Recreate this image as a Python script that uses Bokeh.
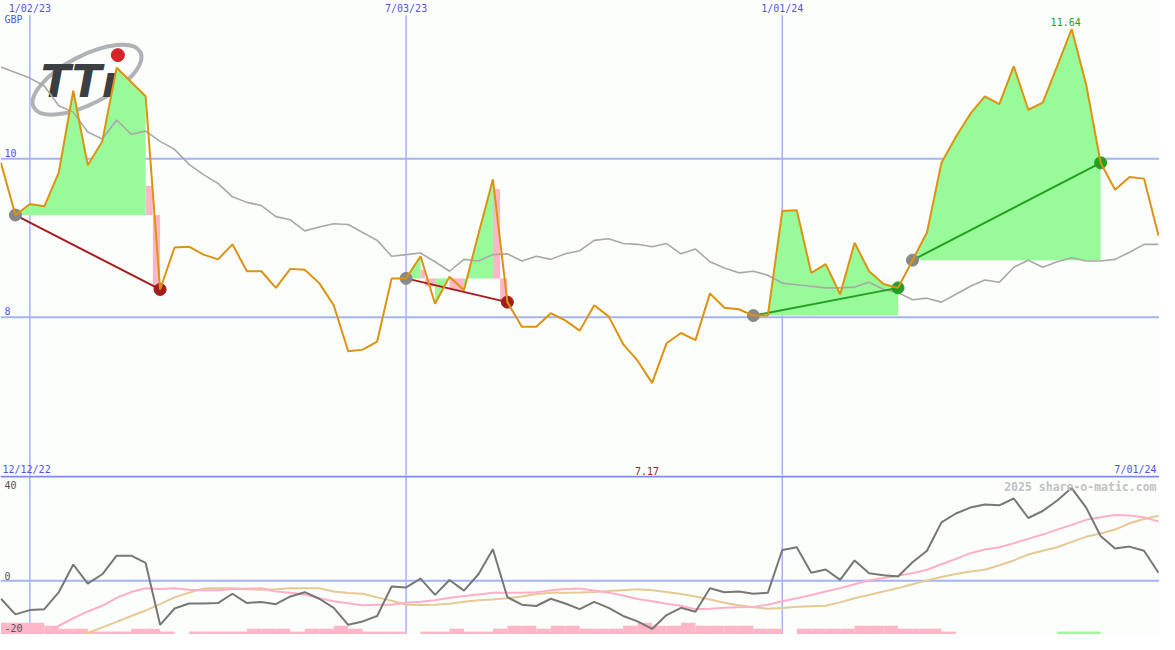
from bokeh.plotting import figure
from bokeh.layouts import column
from bokeh.models import Range1d, Span, Label
from bokeh.embed import file_html
from bokeh.resources import INLINE
from bokeh.core.properties import value

# ---------------- data (weekly, index 0 = w/c 19 Dec 2022) ----------------
price = [9.95, 9.29, 9.43, 9.40, 9.83, 10.86, 9.92, 10.22, 11.15, 10.97,
         10.79, 8.35, 8.88, 8.89, 8.79, 8.73, 8.92, 8.58, 8.58, 8.37,
         8.61, 8.60, 8.43, 8.15, 7.57, 7.59, 7.69, 8.49, 8.49, 8.77,
         8.17, 8.51, 8.34, 9.05, 9.74, 8.19, 7.88, 7.88, 8.05, 7.96,
         7.83, 8.15, 8.01, 7.66, 7.45, 7.17, 7.67, 7.80, 7.71, 8.30,
         8.12, 8.10, 8.02, 8.02, 9.34, 9.35, 8.56, 8.67, 8.29, 8.94,
         8.58, 8.42, 8.37, 8.72, 9.07, 9.95, 10.28, 10.57, 10.79, 10.69,
         11.17, 10.62, 10.71, 11.17, 11.64, 10.94, 9.95, 9.61, 9.77, 9.75,
         9.03]
avg = [11.16, 11.09, 11.02, 10.92, 10.67, 10.59, 10.34, 10.25, 10.49, 10.31,
       10.35, 10.22, 10.12, 9.93, 9.80, 9.69, 9.52, 9.45, 9.41, 9.27,
       9.23, 9.09, 9.14, 9.18, 9.17, 9.07, 8.97, 8.77, 8.79, 8.81,
       8.70, 8.58, 8.73, 8.71, 8.79, 8.80, 8.71, 8.77, 8.73, 8.80,
       8.84, 8.97, 8.99, 8.93, 8.92, 8.89, 8.93, 8.80, 8.86, 8.70,
       8.62, 8.56, 8.58, 8.53, 8.43, 8.41, 8.39, 8.37, 8.37, 8.38,
       8.44, 8.35, 8.31, 8.22, 8.24, 8.19, 8.29, 8.39, 8.47, 8.44,
       8.63, 8.72, 8.63, 8.70, 8.75, 8.71, 8.71, 8.73, 8.82, 8.92,
       8.92]
mom = [-7.9, -14.8, -12.9, -12.5, -5.0, 7.2, -1.2, 2.9, 11.1, 11.1,
       7.9, -19.4, -12.2, -10.0, -10.0, -9.8, -5.7, -9.8, -9.3, -10.3,
       -6.9, -5.0, -7.9, -11.9, -19.4, -17.9, -15.5, -2.5, -2.9, 1.0,
       -6.2, 0.4, -4.3, 2.9, 13.9, -7.2, -10.5, -11.1, -7.9, -10.0,
       -12.5, -9.3, -11.9, -15.5, -17.9, -21.2, -15.1, -11.9, -13.6, -3.3,
       -5.0, -4.7, -5.7, -5.3, 13.6, 14.8, 3.6, 5.0, 0.4, 9.0,
       3.3, 2.5, 1.9, 8.2, 13.3, 25.8, 29.7, 32.3, 33.7, 33.3,
       36.3, 27.7, 30.8, 35.4, 40.9, 32.3, 19.8, 14.3, 15.1, 13.3,
       3.6]
mom_fast = [-33.0, -30.5, -27.5, -24.5, -19.8, -16.5, -13.5, -11.0, -7.5, -4.9,
            -3.3, -3.6, -3.3, -3.9, -4.2, -4.1, -3.6, -3.4, -3.3, -4.7,
            -5.2, -6.0, -7.7, -9.0, -9.9, -10.8, -10.5, -10.5, -9.7, -9.2,
            -8.6, -7.5, -6.7, -6.0, -5.3, -5.2, -5.2, -5.0, -4.2, -3.6,
            -3.4, -4.3, -5.2, -6.5, -8.0, -9.0, -10.1, -11.0, -12.5, -12.3,
            -11.9, -11.6, -11.5, -10.5, -9.0, -7.7, -6.2, -4.7, -3.2, -1.5,
            0.2, 1.3, 2.2, 3.4, 4.9, 7.3, 9.7, 12.2, 13.8, 14.8,
            16.6, 18.5, 20.4, 22.6, 24.7, 26.9, 28.0, 29.0, 28.8, 28.0,
            26.2]
mom_slow = [-35.5, -33.5, -31.5, -29.5, -27.5, -25.5, -23.0, -20.5, -18.1, -15.5,
            -13.1, -10.3, -7.3, -5.2, -3.4, -3.3, -3.3, -3.7, -3.9, -3.7,
            -3.3, -3.3, -3.3, -4.7, -5.4, -5.7, -7.3, -8.8, -10.5, -10.6,
            -10.5, -10.1, -9.2, -8.6, -8.2, -7.7, -6.9, -5.8, -5.2, -5.2,
            -5.1, -4.9, -4.5, -4.1, -3.7, -4.1, -4.9, -5.8, -6.9, -8.2,
            -9.7, -10.8, -11.6, -12.3, -12.0, -11.4, -11.2, -11.0, -9.5, -7.7,
            -6.2, -4.7, -3.2, -1.5, 0.2, 1.7, 3.0, 4.1, 4.9, 6.9,
            9.0, 11.6, 13.3, 14.8, 17.2, 19.4, 20.9, 22.6, 25.4, 27.3,
            28.7]
hist_down = [4, 4, 4, 3, 2, 2, 1, 1, 1, 2,
             2, 1, 0, 1, 1, 1, 1, 2, 2, 2,
             1, 2, 2, 3, 2, 1, 1, 1, 0, 1,
             1, 2, 1, 1, 2, 3, 3, 2, 3, 3,
             2, 2, 2, 3, 4, 3, 3, 4, 3, 3,
             3, 3, 2, 2, 0, 2, 2, 2, 2, 3,
             3, 3, 2, 2, 2, 1, 0, 0, 0, 0,
             0, 0, 0, 0, 0, 0, 0, 0, 0, 0]
hist_up = [0] * 73 + [1, 1, 1] + [0] * 4

date_idx = [2, 28, 54]
date_labels = ["1/02/23", "7/03/23", "1/01/24"]
range_labels = ["12/12/22", "7/01/24"]
price_grid = [10, 8]
price_grid_labels = ["10", "8"]
mom_grid_labels = [40, 0, -20]

# trend segments (start week, end week)
seg_start = [1, 28, 52, 63]
seg_end = [11, 35, 62, 76]
# green shaded stretches (from, to, segment)
green_from = [1, 28, 30, 32, 52, 63]
green_to = [10, 29, 31, 34, 62, 76]
green_seg = [0, 1, 1, 1, 2, 3]
# pink shaded blocks (weeks / GBP)
pink_x0 = [10, 10.5, 29, 29.3, 31, 34, 34.5]
pink_x1 = [10.5, 11, 29.3, 30, 32, 34.5, 35]
pink_lo = [9.29, 8.35, 8.49, 8.39, 8.34, 8.49, 8.19]
pink_hi = [9.66, 9.29, 8.60, 8.49, 8.49, 9.62, 8.49]

# ---------------- style ----------------
W, H1, H2 = 1159, 475, 159
BG = "#fcfefc"
GRID = "#a6b3f3"
BORDER = "#7d8cf0"
BLUE = "#5252ee"
ORANGE = "#dd9210"
GREYMA = "#a8a8a8"
GFILL = "#98fa98"
PINK = "#ffb6c6"
DRED = "#a31d1d"
GREEN = "#23a023"
MONO = "DejaVu Sans Mono"

YTOP, YBOT = 12.0, 6.0
MTOP, MBOT = 46.45, -23.66
xr = Range1d(-0.03, 80.07)


def make_fig(h, yr):
    p = figure(width=W, height=h, x_range=xr, y_range=yr, output_backend="svg",
               toolbar_location=None, min_border=0, x_axis_location=None,
               y_axis_location=None, background_fill_color=BG,
               border_fill_color=BG, outline_line_color=None)
    p.grid.visible = False
    return p


# ---------------- top panel ----------------
p1 = make_fig(H1, Range1d(YBOT, YTOP))
for lv in price_grid:
    p1.add_layout(Span(location=lv, dimension="width", line_color=GRID,
                       line_width=2, level="underlay"))
vtop = YTOP - 15 / 81.17
p1.segment(x0=date_idx, y0=[YBOT] * 3, x1=date_idx, y1=[vtop] * 3,
           line_color=GRID, line_width=1.5)

# logo (decoration)
p1.ellipse(x=[5.95], y=[11.0], width=[120], height=[48], angle=[0.48],
           width_units="screen", height_units="screen", fill_alpha=0,
           line_color="#b0b3b6", line_width=4)
p1.text(x=[2.75], y=[10.98], text=["TTı"], text_font=value("DejaVu Sans"),
        text_font_style="bold italic", text_font_size="44px",
        text_color="#3c3f42", text_baseline="alphabetic")
p1.scatter(x=[8.08], y=[11.31], size=13, color="#d8232a")

# shaded areas
gx, gy = [], []
for a, b, s in zip(green_from, green_to, green_seg):
    base = price[seg_start[s]]
    xs = [a] + list(range(a, b + 1)) + [b]
    ys = [base] + price[a:b + 1] + [base]
    gx.append(xs)
    gy.append(ys)
p1.patches(xs=gx, ys=gy, fill_color=GFILL, line_alpha=0)
p1.quad(left=pink_x0, right=pink_x1, bottom=pink_lo, top=pink_hi,
        fill_color=PINK, line_alpha=0)

weeks = list(range(len(price)))
p1.line(weeks, avg, line_color=GREYMA, line_width=1.6)

for s, e in zip(seg_start, seg_end):
    up = price[e] > price[s]
    col = GREEN if up else DRED
    p1.line([s, e], [price[s], price[e]], line_color=col, line_width=2)
    p1.scatter([s], [price[s]], size=12, color="#888888")
    p1.scatter([e], [price[e]], size=12, color=col)

p1.line(weeks, price, line_color=ORANGE, line_width=2)

for d, t in zip(date_idx, date_labels):
    p1.add_layout(Label(x=d, y=H1 - 2, y_units="screen", text=t,
                        text_font=MONO, text_font_size="10px",
                        text_color=BLUE, text_align="center",
                        text_baseline="top"))
p1.add_layout(Label(x=4, y=H1 - 13, x_units="screen", y_units="screen",
                    text="GBP", text_font=MONO, text_font_size="10px",
                    text_color=BLUE, text_baseline="top"))
for lv, t in zip(price_grid, price_grid_labels):
    p1.add_layout(Label(x=4, y=lv, x_units="screen", y_offset=2, text=t,
                        text_font=MONO, text_font_size="10px",
                        text_color=BLUE, text_baseline="bottom"))
imax = price.index(max(price))
imin = price.index(min(price))
p1.add_layout(Label(x=imax, y=price[imax], x_offset=-6, y_offset=3,
                    text=f"{price[imax]:.2f}", text_font=MONO,
                    text_font_size="10px", text_color=GREEN,
                    text_align="center", text_baseline="bottom"))
p1.add_layout(Label(x=imin, y=1, y_units="screen", x_offset=-5,
                    text=f"{price[imin]:.2f}", text_font=MONO,
                    text_font_size="10px", text_color="#aa2020",
                    text_align="center", text_baseline="bottom"))
p1.add_layout(Label(x=2, y=1, x_units="screen", y_units="screen",
                    text=range_labels[0], text_font=MONO,
                    text_font_size="10px", text_color=BLUE,
                    text_baseline="bottom"))
p1.add_layout(Label(x=W - 3, y=1, x_units="screen", y_units="screen",
                    text=range_labels[1], text_font=MONO,
                    text_font_size="10px", text_color=BLUE,
                    text_align="right", text_baseline="bottom"))

# ---------------- bottom panel ----------------
p2 = make_fig(H2, Range1d(MBOT, MTOP))
p2.extra_y_ranges = {"hist": Range1d(0, 163 / 3)}
p2.add_layout(Span(location=0, dimension="width", line_color=GRID,
                   line_width=2, level="underlay"))
p2.segment(x0=date_idx, y0=[MBOT] * 3, x1=date_idx, y1=[MTOP] * 3,
           line_color=GRID, line_width=1.5)

k = list(range(len(hist_down)))
dl = [i for i in k if hist_down[i] > 0]
p2.quad(left=dl, right=[i + 1 for i in dl], bottom=0,
        top=[hist_down[i] for i in dl], y_range_name="hist",
        fill_color=PINK, line_alpha=0)
ul = [i for i in k if hist_up[i] > 0]
p2.quad(left=ul, right=[i + 1 for i in ul], bottom=0,
        top=[hist_up[i] for i in ul], y_range_name="hist",
        fill_color=GFILL, line_alpha=0)

p2.line(weeks, mom_slow, line_color="#e6c994", line_width=2)
p2.line(weeks, mom_fast, line_color="#ffb0c6", line_width=2)
p2.line(weeks, mom, line_color="#777777", line_width=2)

p2.add_layout(Span(location=MTOP - 0.45, dimension="width",
                   line_color=BORDER, line_width=2))
for lv in mom_grid_labels:
    p2.add_layout(Label(x=4, y=lv, x_units="screen",
                        y_offset=(1 if lv >= 0 else -6), text=str(lv),
                        text_font=MONO, text_font_size="10px",
                        text_color="#555555", text_baseline="bottom"))
p2.add_layout(Label(x=W - 3, y=H2 - 4, x_units="screen", y_units="screen",
                    text="2025 share-o-matic.com", text_font=MONO,
                    text_font_style="bold", text_font_size="11.5px",
                    text_color="#c2c2c2", text_align="right",
                    text_baseline="top"))

layout = column(p1, p2, spacing=0)
open("out.html", "w").write(file_html(layout, INLINE))
